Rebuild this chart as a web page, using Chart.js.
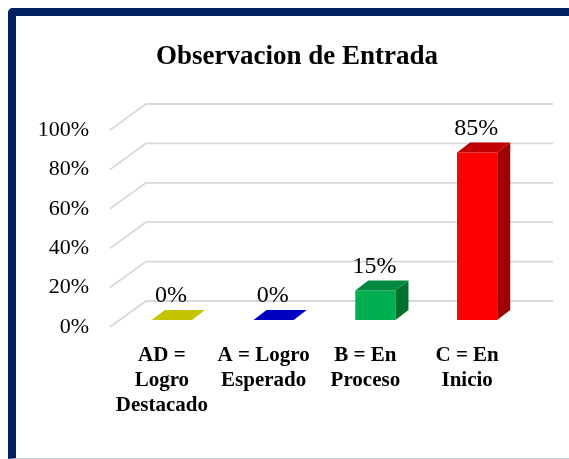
<!DOCTYPE html>
<html>
<head>
<meta charset="utf-8">
<script src="https://cdn.jsdelivr.net/npm/chart.js@4.4.1/dist/chart.umd.min.js"></script>
<style>
  html, body { margin: 0; padding: 0; background: #fff; overflow: hidden; }
  .frame {
    position: absolute; left: 8px; top: 8px; width: 620px; height: 442px;
    border-left: 8px solid #002060; border-top: 8px solid #002060;
    border-bottom: 1px solid #c8cde0;
    border-top-left-radius: 5px;
  }
  #chart { position: absolute; left: 0; top: 0; }
</style>
</head>
<body>
<div class="frame"></div>
<canvas id="chart" width="569" height="459"></canvas>
<script>
const categories = [
  ["AD =", "Logro", "Destacado"],
  ["A = Logro", "Esperado"],
  ["B = En", "Proceso"],
  ["C = En", "Inicio"]
];
const values = [0, 0, 15, 85];
const tickValues = [0, 20, 40, 60, 80, 100];
const title = "Observacion de Entrada";

const frontColors = ["#FFFF00", "#0000FF", "#00B050", "#FF0000"];
const topColors = ["#C4C400", "#0000C4", "#008A3E", "#C00000"];
const sideColors = ["#9E9E00", "#00009E", "#00702F", "#A00000"];

const serif = "'Liberation Serif', 'Times New Roman', serif";
const depthX = 13, depthY = -10;   // bar depth
const wallX = 35, wallY = -26;     // floor depth
const shiftX = 10, shiftY = -7;    // bars sit inside the floor

const threeD = {
  id: "threeD",
  beforeDatasetsDraw(chart) {
    const { ctx, chartArea, scales } = chart;
    ctx.save();
    ctx.strokeStyle = "#d9d9d9";
    ctx.lineWidth = 1.8;
    tickValues.forEach(v => {
      const y = scales.y.getPixelForValue(v);
      ctx.beginPath();
      ctx.moveTo(chartArea.left - 1, y);
      ctx.lineTo(chartArea.left + wallX, y + wallY);
      ctx.lineTo(chartArea.right + wallX, y + wallY);
      ctx.stroke();
    });
    ctx.restore();
    ctx.save();
    ctx.translate(shiftX, shiftY);
  },
  afterDatasetsDraw(chart) {
    const { ctx } = chart;
    const meta = chart.getDatasetMeta(0);
    meta.data.forEach((bar, i) => {
      const { x, y, base, width } = bar.getProps(["x", "y", "base", "width"], true);
      const l = x - width / 2, r = x + width / 2;
      // side
      if (base - y > 0.5) {
        ctx.fillStyle = sideColors[i];
        ctx.beginPath();
        ctx.moveTo(r, y);
        ctx.lineTo(r + depthX, y + depthY);
        ctx.lineTo(r + depthX, base + depthY);
        ctx.lineTo(r, base);
        ctx.closePath();
        ctx.fill();
      }
      // top
      ctx.fillStyle = topColors[i];
      ctx.beginPath();
      ctx.moveTo(l, y);
      ctx.lineTo(r, y);
      ctx.lineTo(r + depthX, y + depthY);
      ctx.lineTo(l + depthX, y + depthY);
      ctx.closePath();
      ctx.fill();
      // value label
      ctx.fillStyle = "#000";
      ctx.font = "24px " + serif;
      ctx.textAlign = "center";
      ctx.textBaseline = "middle";
      ctx.fillText(values[i] + "%", x - 1, y - 24);
    });
    ctx.restore();
  },
  afterDraw(chart) {
    const { ctx } = chart;
    ctx.save();
    ctx.fillStyle = "#000";
    ctx.font = "bold 27px " + serif;
    ctx.textAlign = "center";
    ctx.textBaseline = "alphabetic";
    ctx.fillText(title, 297, 64);
    ctx.restore();
  }
};

new Chart(document.getElementById("chart"), {
  type: "bar",
  data: {
    labels: categories,
    datasets: [{
      data: values,
      backgroundColor: frontColors,
      borderWidth: 0,
      barPercentage: 0.395,
      categoryPercentage: 1
    }]
  },
  options: {
    responsive: false,
    animation: false,
    events: [],
    layout: { padding: { left: 16, right: 51, top: 130, bottom: 0 } },
    plugins: { legend: { display: false }, title: { display: false }, tooltip: { enabled: false } },
    scales: {
      x: {
        grid: { display: false, drawTicks: false },
        border: { display: false },
        afterFit(scale) { scale.height = 132; },
        ticks: {
          color: "#000",
          padding: 16,
          maxRotation: 0,
          autoSkip: false,
          font: { family: serif, size: 21, weight: "bold", lineHeight: 1.2 }
        }
      },
      y: {
        min: 0,
        max: 100,
        afterFit(scale) { scale.width = 95; },
        afterBuildTicks(scale) { scale.ticks = tickValues.map(v => ({ value: v })); },
        grid: { display: false, drawTicks: false },
        border: { display: false },
        ticks: {
          color: "#000",
          padding: 22,
          callback: v => v + "%",
          font: { family: serif, size: 22 }
        }
      }
    }
  },
  plugins: [threeD]
});
</script>
</body>
</html>
